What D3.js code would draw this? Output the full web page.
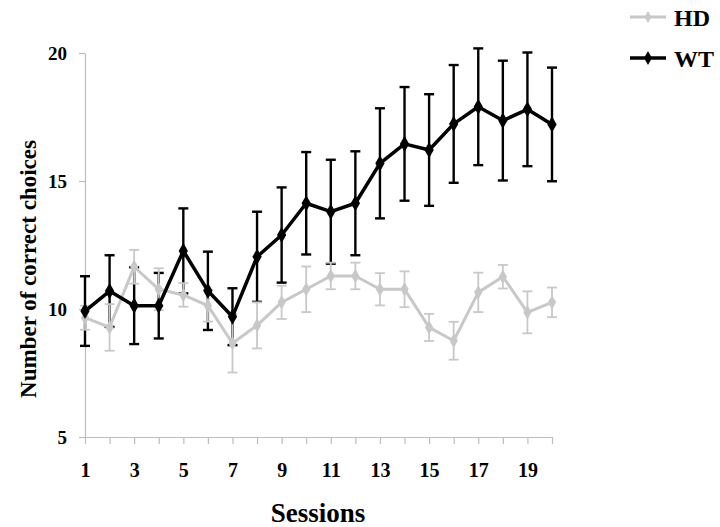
<!DOCTYPE html>
<html>
<head>
<meta charset="utf-8">
<script src="https://cdn.jsdelivr.net/npm/d3@7"></script>
<style>
  html, body { margin: 0; padding: 0; background: #fff; }
  svg { display: block; }
  text { font-family: "Liberation Serif", "Times New Roman", serif; font-weight: bold; fill: #000; }
</style>
</head>
<body>
<svg id="chart" width="720" height="527"></svg>
<script>
const sessions = [1,2,3,4,5,6,7,8,9,10,11,12,13,14,15,16,17,18,19,20];
const hdMean = [9.66, 9.28, 11.65, 10.77, 10.55, 10.13, 8.66, 9.36, 10.26, 10.77, 11.29, 11.29, 10.77, 10.77, 9.28, 8.76, 10.65, 11.26, 9.87, 10.26];
const hdErr  = [0.47, 0.91, 0.66, 0.82, 0.46, 0.62, 1.14, 0.90, 0.65, 0.89, 0.52, 0.52, 0.63, 0.70, 0.53, 0.74, 0.77, 0.46, 0.82, 0.58];
const wtMean = [9.92, 10.70, 10.13, 10.13, 12.27, 10.71, 9.70, 12.04, 12.89, 14.13, 13.80, 14.13, 15.69, 16.45, 16.21, 17.23, 17.90, 17.36, 17.80, 17.21];
const wtErr  = [1.36, 1.40, 1.50, 1.28, 1.66, 1.53, 1.11, 1.76, 1.86, 2.00, 2.03, 2.03, 2.15, 2.22, 2.18, 2.30, 2.28, 2.34, 2.22, 2.22];
const yTicks = [5, 10, 15, 20];
const xTickLabels = [1, 3, 5, 7, 9, 11, 13, 15, 17, 19];
const seriesNames = ["HD", "WT"];
const xTitle = "Sessions";
const yTitle = "Number of correct choices";

const svg = d3.select("#chart");
const x = d3.scaleLinear().domain([1, 20]).range([85, 552]);
const y = d3.scaleLinear().domain([5, 20]).range([437, 53]);
const axisColor = "#bdbdbd";
const hdColor = "#c8c8c8";
const wtColor = "#000000";

// Y axis
const yAxis = svg.append("g").attr("transform", "translate(85,0)")
  .call(d3.axisLeft(y).tickValues(yTicks).tickSize(6).tickSizeOuter(0).tickPadding(12).tickFormat(d3.format("d")));
yAxis.select(".domain").attr("stroke", axisColor).attr("stroke-width", 1.2);
yAxis.selectAll(".tick line").attr("stroke", axisColor).attr("stroke-width", 1.2);
yAxis.selectAll(".tick text").attr("font-size", 19).attr("font-family", "Liberation Serif").attr("font-weight", "bold").attr("fill", "#000");

// X axis
const xAxis = svg.append("g").attr("transform", "translate(0,437)")
  .call(d3.axisBottom(x).tickValues(sessions).tickSize(7).tickSizeOuter(0).tickPadding(19)
    .tickFormat(d => xTickLabels.includes(d) ? String(d) : ""));
xAxis.select(".domain").attr("stroke", axisColor).attr("stroke-width", 1.2);
xAxis.selectAll(".tick line").attr("stroke", axisColor).attr("stroke-width", 1.2);
xAxis.selectAll(".tick text").attr("font-size", 20).attr("font-family", "Liberation Serif").attr("font-weight", "bold").attr("fill", "#000");

// Titles
svg.append("text").attr("x", 318).attr("y", 522).attr("text-anchor", "middle")
  .attr("font-size", 27).text(xTitle);
svg.append("text").attr("transform", "translate(36,269) rotate(-90)").attr("text-anchor", "middle")
  .attr("font-size", 23).text(yTitle);

const diamond = d3.symbol().type(d3.symbolDiamond);

function errorBars(mean, err, color, width) {
  const g = svg.append("g").attr("stroke", color).attr("stroke-width", width).attr("fill", "none");
  sessions.forEach((s, i) => {
    const cx = x(s), top = y(mean[i] + err[i]), bot = y(mean[i] - err[i]);
    g.append("line").attr("x1", cx).attr("x2", cx).attr("y1", top).attr("y2", bot);
    g.append("line").attr("x1", cx - 5).attr("x2", cx + 5).attr("y1", top).attr("y2", top);
    g.append("line").attr("x1", cx - 5).attr("x2", cx + 5).attr("y1", bot).attr("y2", bot);
  });
}
function series(mean, color, lw, msize) {
  const line = d3.line().x((d, i) => x(sessions[i])).y(d => y(d));
  svg.append("path").datum(mean).attr("d", line).attr("fill", "none")
    .attr("stroke", color).attr("stroke-width", lw).attr("stroke-linejoin", "round");
  svg.append("g").selectAll("path").data(mean).join("path")
    .attr("transform", (d, i) => `translate(${x(sessions[i])},${y(d)})`)
    .attr("d", diamond.size(msize)()).attr("fill", color);
}

errorBars(wtMean, wtErr, wtColor, 2.4);
errorBars(hdMean, hdErr, hdColor, 1.8);
series(hdMean, hdColor, 3, 60);
series(wtMean, wtColor, 3.5, 75);

// Legend
const legend = [
  { name: seriesNames[0], color: hdColor, lw: 3, ms: 40, y: 17 },
  { name: seriesNames[1], color: wtColor, lw: 3.5, ms: 55, y: 58 }
];
legend.forEach(l => {
  svg.append("line").attr("x1", 630).attr("x2", 666).attr("y1", l.y).attr("y2", l.y)
    .attr("stroke", l.color).attr("stroke-width", l.lw);
  svg.append("path").attr("transform", `translate(648,${l.y})`).attr("d", diamond.size(l.ms)()).attr("fill", l.color);
  svg.append("text").attr("x", 674).attr("y", l.y + 9).attr("font-size", 24).text(l.name);
});
</script>
</body>
</html>
